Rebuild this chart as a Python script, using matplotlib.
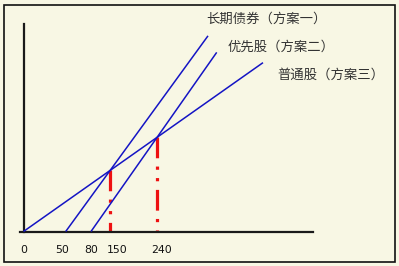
import matplotlib
matplotlib.use("Agg")
import matplotlib.pyplot as plt
from matplotlib.patches import Rectangle

# ---- data (schematic units: EBIT axis position, EPS axis position) ----
series_names = ["长期债券（方案一）", "优先股（方案二）", "普通股（方案三）"]
x_intercepts = [42.2, 67.5, 0.0]      # where each EPS line meets the EBIT axis
slopes = [1.375, 1.425, 0.705]        # EPS per unit EBIT
x_ends = [184.5, 193.2, 239.5]        # right end of each line
label_x = [182.5, 204.2, 253.8]
label_y = [213.2, 185.0, 157.2]

tick_pos = [0.5, 38.2, 67.5, 93.8, 138.2]
tick_labels = ["0", "50", "80", "150", "240"]

W, H = 399, 266
bg = "#F8F7E4"
blue = "#1414C4"

fig = plt.figure(figsize=(W / 100, H / 100), dpi=100, facecolor=bg)
fig.patches.append(Rectangle((3.5 / W, 4.5 / H), 391 / W, 257 / H, transform=fig.transFigure,
                             fill=False, edgecolor="#111111", linewidth=1.2))

ax = fig.add_axes([20 / W, 34.5 / H, 293 / W, 208 / H])
ax.set_facecolor("none")
ax.set_xlim(-3.5, 289.5)
ax.set_ylim(0, 208)

for s in ["top", "right"]:
    ax.spines[s].set_visible(False)
ax.spines["left"].set_position(("data", 0))
for s in ["left", "bottom"]:
    ax.spines[s].set_linewidth(1.6)
    ax.spines[s].set_color("#1a1a1a")
ax.set_yticks([])
ax.set_xticks(tick_pos, tick_labels)
ax.tick_params(axis="x", length=0, pad=9.5, labelsize=7.8, labelcolor="#111111")
for t in ax.get_xticklabels():
    t.set_fontfamily("DejaVu Sans")

# lines
for b, m, xe in zip(x_intercepts, slopes, x_ends):
    ax.plot([b, xe], [0, m * (xe - b)], color=blue, linewidth=1.1, solid_capstyle="butt", zorder=3)

# intersections of 方案三 with 方案一 and 方案二 -> red dash-dot lines
b3, m3 = x_intercepts[2], slopes[2]
for b, m in zip(x_intercepts[:2], slopes[:2]):
    xi = (m * b - m3 * b3) / (m - m3)
    yi = m3 * (xi - b3)
    ax.plot([xi, xi], [yi, 0], color="#EE1111", linewidth=2.3,
            linestyle=(0, (6.5, 2.6, 1, 2.6, 1, 2.7)), dash_capstyle="butt", zorder=2,
            clip_on=False)

for name, lx, ly in zip(series_names, label_x, label_y):
    ax.text(lx, ly, name, fontsize=9.6, color="#333333", va="center", ha="left",
            family=["Noto Sans CJK SC", "DejaVu Sans"], clip_on=False)

fig.savefig("out.png", dpi=100, facecolor=bg)
